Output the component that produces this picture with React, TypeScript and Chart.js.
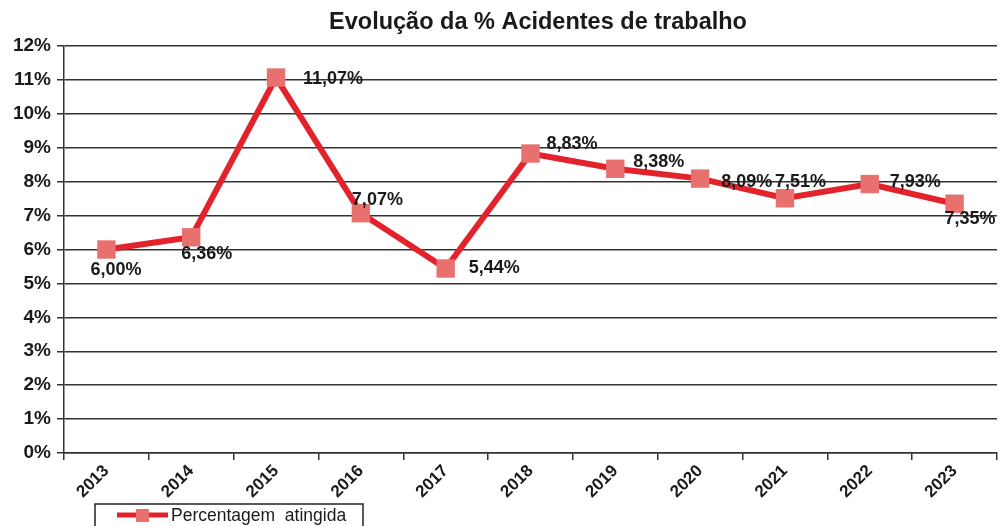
import React, { useEffect, useRef } from "react";
import { Chart, registerables } from "chart.js";

Chart.register(...registerables);

const TITLE = "Evolução da % Acidentes de trabalho";
const SERIES_NAME = "Percentagem  atingida";
const YEARS = ["2013", "2014", "2015", "2016", "2017", "2018", "2019", "2020", "2021", "2022", "2023"];
const VALUES = [6.0, 6.36, 11.07, 7.07, 5.44, 8.83, 8.38, 8.09, 7.51, 7.93, 7.35];
const Y_MIN = 0;
const Y_MAX = 12;
const Y_STEP = 1;

// label placement (left-edge dx, center dy) relative to each point
const LABEL_OFFSETS: [number, number][] = [
  [-16, 21], [-10, 17], [27, 1], [-9, -13], [23, 0], [16, -9], [18, -7], [21, 3], [-10, -16], [20, -2], [-10, 15],
];

const FONT = "'Liberation Sans', Arial, sans-serif";
const LINE_RED = "#e3232c";
const MARK = "#e8706f";

const fmt = (v: number) => v.toFixed(2).replace(".", ",") + "%";

const extras = {
  id: "extras",
  afterDatasetsDraw(chart: any) {
    const ctx = chart.ctx;
    const meta = chart.getDatasetMeta(0);
    ctx.save();
    ctx.fillStyle = "#1a1a1a";
    ctx.font = `bold 18px ${FONT}`;
    ctx.textAlign = "left";
    ctx.textBaseline = "middle";
    meta.data.forEach((pt: any, i: number) => {
      const [dx, dy] = LABEL_OFFSETS[i];
      ctx.fillText(fmt(VALUES[i]), pt.x + dx, pt.y + dy);
    });
    // title
    ctx.font = `bold 23.5px ${FONT}`;
    ctx.textAlign = "center";
    ctx.fillText(TITLE, 538, 23);
    // legend
    const lx = 95, ly = 504, lw = 268, lh = 26;
    ctx.strokeStyle = "#222";
    ctx.lineWidth = 1.5;
    ctx.strokeRect(lx, ly, lw, lh);
    ctx.strokeStyle = LINE_RED;
    ctx.lineWidth = 5;
    ctx.beginPath();
    ctx.moveTo(lx + 22, ly + 11);
    ctx.lineTo(lx + 73, ly + 11);
    ctx.stroke();
    ctx.fillStyle = MARK;
    ctx.fillRect(lx + 41, ly + 5, 13, 13);
    ctx.fillStyle = "#1a1a1a";
    ctx.font = `17.5px ${FONT}`;
    ctx.textAlign = "left";
    ctx.fillText(SERIES_NAME, lx + 76, ly + 12);
    ctx.restore();
  },
};

export default function App() {
  const ref = useRef<HTMLCanvasElement>(null);
  useEffect(() => {
    if (!ref.current) return;
    const chart = new Chart(ref.current, {
      type: "line",
      data: {
        labels: YEARS,
        datasets: [
          {
            label: SERIES_NAME,
            data: VALUES,
            borderColor: LINE_RED,
            borderWidth: 6,
            pointStyle: "rect",
            pointRadius: 13,
            pointBackgroundColor: MARK,
            pointBorderColor: MARK,
            pointBorderWidth: 0,
            tension: 0,
          },
        ],
      },
      options: {
        animation: false,
        responsive: true,
        maintainAspectRatio: false,
        layout: { autoPadding: false, padding: { top: 46, right: 5, left: 0, bottom: 0 } },
        plugins: { legend: { display: false }, title: { display: false }, tooltip: { enabled: false } },
        scales: {
          x: {
            type: "category",
            offset: true,
            grid: { display: true, drawOnChartArea: false, drawTicks: true, offset: true, tickLength: 7, color: "#333", lineWidth: 1.5 },
            border: { display: true, color: "#333", width: 1.5 },
            ticks: { maxRotation: 45, minRotation: 45, color: "#1a1a1a", font: { family: FONT, size: 17, weight: "bold" }, padding: 1 },
            afterFit(scale: any) {
              scale.height = 73;
              scale.paddingLeft = 0;
              scale.paddingRight = 0;
            },
          },
          y: {
            min: Y_MIN,
            max: Y_MAX,
            grid: { color: "#333", lineWidth: 1.5, tickLength: 7 },
            border: { display: true, color: "#333", width: 1.5 },
            ticks: {
              stepSize: Y_STEP,
              color: "#1a1a1a",
              font: { family: FONT, size: 19, weight: "bold" },
              padding: 6,
              callback: (v: any) => `${v}%`,
            },
            afterFit(scale: any) {
              scale.width = 64;
              scale.paddingTop = 0;
              scale.paddingBottom = 0;
            },
          },
        },
      },
      plugins: [extras],
    });
    return () => chart.destroy();
  }, []);
  return (
    <div style={{ position: "fixed", left: 0, top: 0, width: 1002, height: 526, background: "#fff" }}>
      <canvas ref={ref} />
    </div>
  );
}
